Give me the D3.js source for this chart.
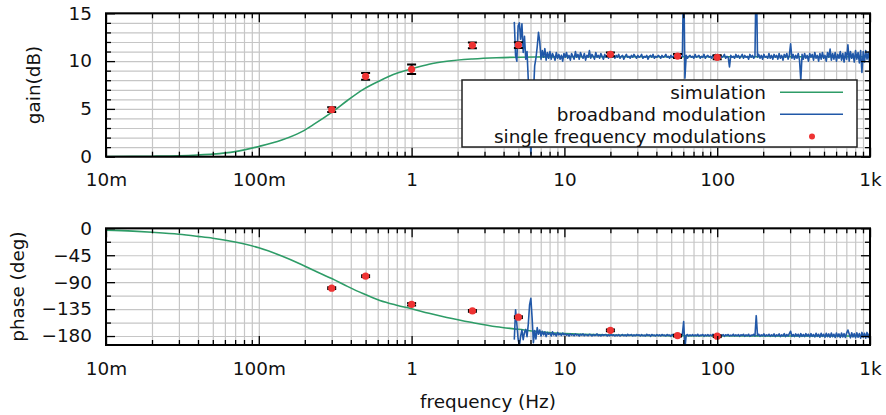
<!DOCTYPE html>
<html>
<head>
<meta charset="utf-8">
<script src="https://cdn.jsdelivr.net/npm/d3@7"></script>
<style>
  html, body { margin: 0; padding: 0; background: #fff; }
  svg { display: block; font-family: "DejaVu Sans", sans-serif; }
  .grid .domain, .ticks .domain, .labels .domain { display: none; }
  .grid line { stroke: #c6c6c6; stroke-width: 1.2; }
  .ticks line { stroke: #000; stroke-width: 1.3; }
  .labels text { font-size: 18.4px; fill: #111; font-family: "DejaVu Sans", sans-serif; }
</style>
</head>
<body>
<svg id="chart" width="886" height="415"></svg>
<script>
// ---- x axis (frequency, Hz) ----
const decadeTicks  = [0.01, 0.1, 1, 10, 100, 1000];
const decadeLabels = ["10m", "100m", "1", "10", "100", "1k"];

// ---- y axes ----
const gainTicks   = [0, 5, 10, 15];
const gainMinor   = [1, 2, 3, 4, 6, 7, 8, 9, 11, 12, 13, 14];
const phaseTicks  = [0, -45, -90, -135, -180];
const phaseMinor  = [-22.5, -67.5, -112.5, -157.5];

// ---- simulated transfer function ----
const simFreq  = [0.01, 0.015, 0.02, 0.03, 0.04, 0.05, 0.07, 0.1, 0.14, 0.19, 0.23, 0.3, 0.38, 0.48,
                  0.62, 0.8, 1, 1.3, 1.7, 2.5, 3.6, 5, 7.5, 10, 20, 50, 100, 1000];
const simGain  = [0.01, 0.03, 0.05, 0.1, 0.18, 0.27, 0.53, 1.07, 1.72, 2.6, 3.4, 4.63, 5.88, 7.02,
                  7.95, 8.72, 9.19, 9.68, 9.98, 10.22, 10.35, 10.41, 10.44, 10.45, 10.46, 10.46, 10.46, 10.46];
const simPhase = [-3, -4.8, -6.7, -10, -13.5, -16.5, -23, -32.6, -46, -60.5, -70.5, -84, -97, -109,
                  -120.5, -128.5, -134.5, -142, -149, -157.5, -164.5, -168.8, -173.8, -176, -178.3, -179.3, -179.6, -180];

// ---- single frequency modulations (mean ± error) ----
const sfFreq     = [0.3, 0.5, 1, 2.5, 5, 20, 55, 100];
const sfGain     = [4.92, 8.41, 9.14, 11.65, 11.68, 10.71, 10.53, 10.4];
const sfGainErr  = [0.25, 0.35, 0.5, 0.3, 0.3, 0.2, 0.2, 0.2];
const sfPhase    = [-100, -80, -127, -138, -148.5, -170.5, -179.3, -180.3];
const sfPhaseErr = [1.5, 1.5, 2, 1.5, 1.5, 1.5, 1.5, 1.5];

// ---- broadband modulation: log-spaced analyser bins from 4.7 Hz, 120 bins per decade ----
const bbStartHz = 4.7;
const bbPerDecade = 120;
const bbGain = [
  14.1, 10.6, 10.0, 13.7, 14.0, 12.3, 13.9, 10.9, 12.6, 10.2, 11.0, 8.0, 3.0, 0.3, 2.5, 6.5, 9.5, 10.3, 11.5, 13.0,
  12.0, 10.2, 11.1, 10.4, 11.3, 10.1, 10.9, 10.3, 11.0, 10.2, 10.8, 10.5, 10.1, 10.9, 10.3, 10.7, 10.2, 10.6, 10.0, 10.8,
  10.4, 10.9, 10.3, 10.6, 10.1, 10.8, 10.5, 10.2, 11.0, 10.4, 10.7, 10.2, 10.9, 10.5, 10.3, 10.8, 10.1, 10.6, 10.4, 11.1,
  10.3, 10.7, 10.5, 10.2, 10.9, 10.4, 10.6, 10.3, 10.8, 10.5, 10.2, 10.7, 10.4, 10.6, 10.3, 10.7, 10.5, 10.4, 10.6, 10.3,
  10.6, 10.4, 10.7, 10.3, 10.5, 10.6, 10.2, 10.5, 10.7, 10.4, 10.5, 10.3, 10.6, 10.4, 10.7, 10.5, 10.3, 10.6, 10.4, 10.5,
  10.7, 10.3, 10.5, 10.4, 10.6, 10.2, 10.5, 10.6, 10.4, 10.7, 10.3, 10.5, 10.4, 10.6, 10.5, 10.3, 10.6, 10.4, 10.5, 10.7,
  10.4, 10.5, 10.3, 10.6, 10.4, 10.5, 10.7, 10.3, 10.5, 10.4, 10.6, 10.4, 10.5, 20.0, 8.2, 10.6, 10.3, 10.5, 10.6, 10.4,
  10.5, 10.3, 10.7, 10.4, 10.5, 10.6, 10.3, 10.5, 10.4, 10.7, 10.3, 10.5, 10.6, 10.4, 10.5, 10.3, 10.6, 10.4, 10.7, 10.4,
  10.5, 10.3, 10.6, 10.4, 10.5, 10.7, 10.3, 10.5, 10.4, 9.4, 10.6, 10.4, 10.5, 10.3, 10.7, 10.4, 10.6, 10.3, 10.5, 10.7,
  10.3, 10.6, 10.4, 10.5, 10.2, 10.7, 10.4, 10.6, 10.3, 10.5, 20.0, 10.4, 10.7, 10.3, 10.6, 10.2, 10.7, 10.4, 10.5, 10.3,
  10.8, 10.3, 10.6, 10.2, 10.7, 10.4, 10.6, 10.2, 10.8, 10.3, 10.6, 10.1, 10.7, 10.4, 10.8, 10.2, 10.6, 11.8, 10.3, 10.7,
  10.2, 10.6, 10.3, 10.8, 10.1, 8.0, 10.7, 10.2, 10.8, 10.3, 10.6, 10.0, 10.8, 10.4, 10.7, 10.1, 10.9, 10.3, 10.6, 10.0,
  10.8, 10.2, 10.9, 10.3, 10.6, 10.0, 10.9, 10.4, 11.25, 10.1, 10.8, 10.2, 10.9, 10.0, 10.7, 10.3, 11.0, 10.1, 10.8, 9.9,
  10.9, 10.2, 11.7, 10.0, 11.0, 10.3, 10.8, 9.9, 11.1, 10.2, 10.9, 9.8, 11.1, 8.8, 11.0, 9.9, 11.1, 10.2, 10.9, 9.8
];
const bbPhase = [
  -186, -136, -160, -185, -196, -180, -170, -186, -174, -169, -181, -160, -128, -117, -150, -191, -171, -185, -166, -177,
  -170, -180, -172, -178, -173, -181, -174, -177, -175, -180, -173, -178, -176, -180, -174, -178, -176, -179, -175, -178,
  -176.5, -178.5, -177, -180, -176.5, -178.5, -177.5, -179.5, -176.5, -178.5, -177.5, -180, -177, -178.5, -176.5, -179.5, -177.5, -178.5, -179.5, -177,
  -178, -180, -177.5, -179, -178.5, -176.5, -179.5, -178, -180, -177.5, -179, -178, -177.5, -180, -178, -179.5, -177.5, -179, -178, -180,
  -178, -179.5, -177.5, -180, -178.5, -177.5, -179.5, -178, -180, -177, -179, -178.5, -177.5, -180, -178, -179.5, -177.5, -179, -178, -180,
  -177.5, -179.5, -178.5, -180, -177, -179, -178, -180.5, -177.5, -179, -178.5, -180, -177.5, -179.5, -178, -180, -177.5, -179, -178.5, -180,
  -177.5, -179, -178.5, -180.5, -177.5, -179, -178, -180, -177.5, -179.5, -178, -180, -177.5, -156, -200, -179, -177.5, -180, -178, -179.5,
  -177.5, -180, -178, -179.5, -177, -180, -178.5, -179, -177.5, -180.5, -178, -179.5, -177.5, -180, -178, -179.5, -177, -180, -178.5, -179,
  -177.5, -180, -178, -179.5, -177.5, -180.5, -178, -179, -177.5, -180, -178.5, -179.5, -177, -180, -178, -179.5, -177.5, -180.5, -178, -179,
  -177, -180.5, -178, -179.5, -177, -180.5, -178.5, -179, -177, -180, -146, -179, -177, -180.5, -178, -179.5, -176.5, -180.5, -178, -179.5,
  -177, -180.5, -178, -180, -176.5, -181, -178, -179.5, -176.5, -181, -178, -180, -176, -181, -177.5, -180, -176, -172, -180.5, -177.5,
  -181, -176.5, -180, -177, -181.5, -176, -180.5, -177.5, -181, -176, -180, -177, -181.5, -176, -180.5, -177.5, -181.5, -175.5, -180.5, -177,
  -182, -175.5, -180.5, -177, -182, -175.5, -181, -176.5, -182, -175, -181, -177, -182.5, -175, -181, -176.5, -182.5, -175, -181.5, -176,
  -182.5, -175, -170, -176.5, -183, -174.5, -181.5, -176, -183, -174.5, -182, -176, -183.5, -174, -182, -175.5, -183.5, -174, -182.5, -175.5
];

// ---- legend ----
const legendLabels = ["simulation", "broadband modulation", "single frequency modulations"];

// ---- colours ----
const colSim = "#2e9c67";
const colBB  = "#2158a8";
const colSF  = "#ee3333";
const fontPx = 18.4;

const svg = d3.select("#chart");
const x = d3.scaleLog().domain([0.01, 1000]).range([106, 870]);
const yGain  = d3.scaleLinear().domain([0, 15]).range([156.7, 13.3]);
const yPhase = d3.scaleLinear().domain([-195, 0]).range([345, 228.3]);

const xMinor = [];
decadeTicks.slice(0, -1).forEach(d => { for (let k = 2; k <= 9; k++) xMinor.push(d * k); });
const xAll = decadeTicks.concat(xMinor);

const bbFreq = bbGain.map((_, i) => bbStartHz * Math.pow(10, i / bbPerDecade));

function panel(id, y, majorY, minorY, yFmt, simVals, bbVals, sfVals, sfErr) {
  const L = x.range()[0], R = x.range()[1];
  const B = y.range()[0], T = y.range()[1];
  const g = svg.append("g").attr("id", id);

  g.append("clipPath").attr("id", id + "-clip")
    .append("rect").attr("x", L).attr("y", T).attr("width", R - L).attr("height", B - T);

  // grid
  g.append("g").attr("class", "grid").attr("transform", `translate(0,${B})`)
    .call(d3.axisBottom(x).tickValues(xAll).tickSize(-(B - T)).tickFormat(""));
  g.append("g").attr("class", "grid").attr("transform", `translate(${L},0)`)
    .call(d3.axisLeft(y).tickValues(majorY.concat(minorY)).tickSize(-(R - L)).tickFormat(""));

  const plot = g.append("g").attr("clip-path", `url(#${id}-clip)`);

  // simulation
  plot.append("path")
    .datum(simFreq.map((f, i) => [f, simVals[i]]))
    .attr("fill", "none").attr("stroke", colSim).attr("stroke-width", 1.6)
    .attr("d", d3.line().x(d => x(d[0])).y(d => y(d[1])).curve(d3.curveMonotoneX));

  // broadband modulation
  plot.append("path")
    .datum(bbFreq.map((f, i) => [f, bbVals[i]]))
    .attr("fill", "none").attr("stroke", colBB).attr("stroke-width", 1.6)
    .attr("stroke-linejoin", "round")
    .attr("d", d3.line().x(d => x(d[0])).y(d => y(d[1])));

  // single frequency modulations with error bars
  const pts = sfFreq.map((f, i) => ({ f, v: sfVals[i], e: sfErr[i] }));
  const eb = plot.append("g").attr("stroke", "#000").attr("stroke-width", 2);
  pts.forEach(p => {
    const cx = x(p.f), y0 = y(p.v - p.e), y1 = y(p.v + p.e);
    eb.append("line").attr("x1", cx).attr("x2", cx).attr("y1", y0).attr("y2", y1);
    eb.append("line").attr("x1", cx - 4.5).attr("x2", cx + 4.5).attr("y1", y0).attr("y2", y0);
    eb.append("line").attr("x1", cx - 4.5).attr("x2", cx + 4.5).attr("y1", y1).attr("y2", y1);
  });
  plot.append("g").selectAll("circle").data(pts).join("circle")
    .attr("cx", d => x(d.f)).attr("cy", d => y(d.v)).attr("r", 3.6).attr("fill", colSF);

  // ticks on all four sides, pointing inward
  const tk = (axis, tr) => g.append("g").attr("class", "ticks").attr("transform", tr).call(axis);
  tk(d3.axisBottom(x).tickValues(decadeTicks).tickSize(-9).tickFormat(""), `translate(0,${B})`);
  tk(d3.axisBottom(x).tickValues(xMinor).tickSize(-5).tickFormat(""), `translate(0,${B})`);
  tk(d3.axisTop(x).tickValues(decadeTicks).tickSize(-9).tickFormat(""), `translate(0,${T})`);
  tk(d3.axisTop(x).tickValues(xMinor).tickSize(-5).tickFormat(""), `translate(0,${T})`);
  tk(d3.axisLeft(y).tickValues(majorY).tickSize(-9).tickFormat(""), `translate(${L},0)`);
  tk(d3.axisLeft(y).tickValues(minorY).tickSize(-5).tickFormat(""), `translate(${L},0)`);
  tk(d3.axisRight(y).tickValues(majorY).tickSize(-9).tickFormat(""), `translate(${R},0)`);
  tk(d3.axisRight(y).tickValues(minorY).tickSize(-5).tickFormat(""), `translate(${R},0)`);

  // frame
  g.append("rect").attr("x", L).attr("y", T).attr("width", R - L).attr("height", B - T)
    .attr("fill", "none").attr("stroke", "#000").attr("stroke-width", 2);

  // tick labels
  g.append("g").attr("class", "labels").attr("transform", `translate(0,${B})`)
    .call(d3.axisBottom(x).tickValues(decadeTicks).tickSize(0).tickPadding(16.5)
      .tickFormat((d, i) => decadeLabels[i]));
  g.append("g").attr("class", "labels").attr("transform", `translate(${L},0)`)
    .call(d3.axisLeft(y).tickValues(majorY).tickSize(0).tickPadding(14).tickFormat(yFmt));
  return g;
}

panel("gain", yGain, gainTicks, gainMinor, d3.format("d"), simGain, bbGain, sfGain, sfGainErr);
panel("phase", yPhase, phaseTicks, phaseMinor, d3.format("d"), simPhase, bbPhase, sfPhase, sfPhaseErr);

// axis titles
svg.append("text").attr("transform", "translate(33.5,85) rotate(-90)")
  .attr("text-anchor", "middle").attr("dominant-baseline", "central")
  .attr("font-size", fontPx).attr("fill", "#111").text("gain(dB)");
svg.append("text").attr("transform", "translate(17,286.6) rotate(-90)")
  .attr("text-anchor", "middle").attr("dominant-baseline", "central")
  .attr("font-size", fontPx).attr("fill", "#111").text("phase (deg)");
svg.append("text").attr("x", 488).attr("y", 407.5)
  .attr("text-anchor", "middle").attr("font-size", fontPx).attr("fill", "#111").text("frequency (Hz)");

// legend: framed box, right-aligned labels, keys to the right
const legend = svg.append("g");
legend.append("rect").attr("x", 462).attr("y", 80).attr("width", 395).attr("height", 67)
  .attr("fill", "#fff").attr("stroke", "#222").attr("stroke-width", 1.5);
const rowH = 21.9, firstBase = 99.3;
legend.selectAll("text.entry").data(legendLabels).join("text").attr("class", "entry")
  .attr("x", 766).attr("y", (d, i) => firstBase + i * rowH)
  .attr("text-anchor", "end").attr("font-size", fontPx).attr("fill", "#111").text(d => d);
const keyY = i => firstBase + i * rowH - 7;
legend.append("line").attr("x1", 780).attr("x2", 843).attr("y1", keyY(0)).attr("y2", keyY(0))
  .attr("stroke", colSim).attr("stroke-width", 1.6);
legend.append("line").attr("x1", 780).attr("x2", 843).attr("y1", keyY(1)).attr("y2", keyY(1))
  .attr("stroke", colBB).attr("stroke-width", 1.6);
legend.append("circle").attr("cx", 812).attr("cy", keyY(2) + 0.5).attr("r", 3).attr("fill", colSF);
</script>
</body>
</html>
